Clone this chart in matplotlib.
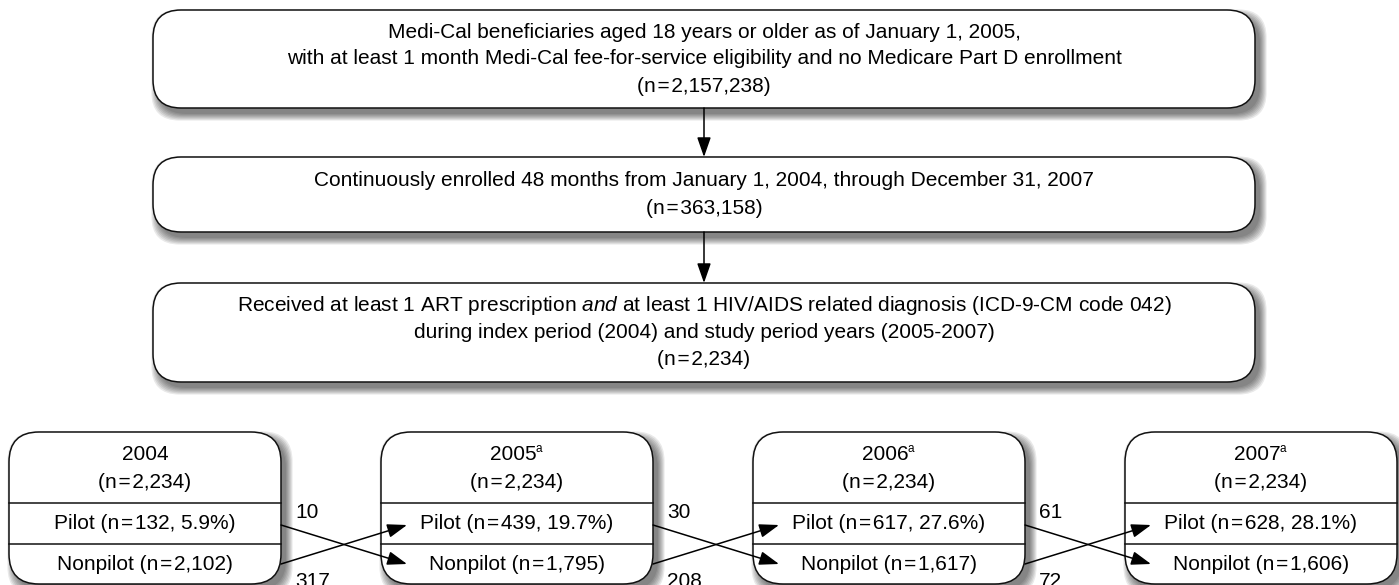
import matplotlib.pyplot as plt
from matplotlib.patches import FancyBboxPatch

plt.rcParams['font.family'] = ['Liberation Sans', 'DejaVu Sans']
plt.rcParams['mathtext.fontset'] = 'custom'
plt.rcParams['mathtext.rm'] = 'Liberation Sans'
plt.rcParams['mathtext.it'] = 'Liberation Sans:italic'

# selection steps (top boxes)
step_lines = [
    ["Medi-Cal beneficiaries aged 18 years or older as of January 1, 2005,",
     "with at least 1 month Medi-Cal fee-for-service eligibility and no Medicare Part D enrollment"],
    ["Continuously enrolled 48 months from January 1, 2004, through December 31, 2007"],
    [r"Received at least 1 ART prescription $\mathit{and}$ at least 1 HIV/AIDS related diagnosis (ICD-9-CM code 042)",
     "during index period (2004) and study period years (2005-2007)"],
]
step_n = ["2,157,238", "363,158", "2,234"]

# yearly boxes
years = ["2004", "2005", "2006", "2007"]
year_note = ["", "a", "a", "a"]
total_n = ["2,234", "2,234", "2,234", "2,234"]
pilot_n = ["132", "439", "617", "628"]
pilot_pct = ["5.9%", "19.7%", "27.6%", "28.1%"]
nonpilot_n = ["2,102", "1,795", "1,617", "1,606"]
pilot_to_nonpilot = [10, 30, 61]
nonpilot_to_pilot = [317, 208, 72]

FS = 15
EQ = "\u200a=\u200a"   # equals sign with hair spaces, as in the original

fig = plt.figure(figsize=(13.99, 5.85), dpi=100)
ax = fig.add_axes([0, 0, 1, 1])
ax.set_xlim(0, 1399)
ax.set_ylim(585, 0)
ax.axis('off')


def rbox(x, y, w, h, r=28):
    # soft drop shadow
    for k in range(7):
        ax.add_patch(FancyBboxPatch((x + 5, y + 6), w, h,
                                    boxstyle=f"round,pad={k * 1.1},rounding_size={r}",
                                    fc='black', ec='none', alpha=0.085, zorder=1))
    ax.add_patch(FancyBboxPatch((x, y), w, h,
                                boxstyle=f"round,pad=0,rounding_size={r}",
                                fc='white', ec='#111111', lw=1.1, zorder=2))


def arrow(x0, y0, x1, y1):
    ax.annotate("", xy=(x1, y1), xytext=(x0, y0),
                arrowprops=dict(arrowstyle='-|>,head_length=1.2,head_width=0.42',
                                color='black', lw=1.1, mutation_scale=10,
                                shrinkA=0, shrinkB=0), zorder=4)


# top boxes
tx, tw = 153, 1102
tops = [10, 157, 283]
heights = [98, 75, 99]
for i in range(3):
    rbox(tx, tops[i], tw, heights[i])
    lines = step_lines[i] + ["(n" + EQ + step_n[i] + ")"]
    cy = tops[i] + heights[i] / 2
    n = len(lines)
    for j, s in enumerate(lines):
        ax.text(tx + tw / 2, cy + (j - (n - 1) / 2) * 27, s, ha='center', va='center',
                fontsize=FS, zorder=3)
    if i < 2:
        arrow(tx + tw / 2, tops[i] + heights[i], tx + tw / 2, tops[i + 1])

# bottom boxes
lefts = [9, 381, 753, 1125]
bw, btop, bh = 272, 432, 152
div1, div2 = 503, 544
for i in range(4):
    x = lefts[i]
    rbox(x, btop, bw, bh, r=30)
    ax.plot([x, x + bw], [div1, div1], color='#111111', lw=1.1, zorder=3)
    ax.plot([x, x + bw], [div2, div2], color='#111111', lw=1.1, zorder=3)
    cx = x + bw / 2
    if year_note[i]:
        ax.text(cx + 20, 455, years[i], ha='right', va='center', fontsize=FS, zorder=3)
        ax.text(cx + 19, 449, year_note[i], ha='left', va='center', fontsize=8.5, zorder=3)
    else:
        ax.text(cx, 455, years[i], ha='center', va='center', fontsize=FS, zorder=3)
    ax.text(cx, 482, "(n" + EQ + total_n[i] + ")", ha='center', va='center', fontsize=FS, zorder=3)
    ax.text(cx, (div1 + div2) / 2, "Pilot (n" + EQ + pilot_n[i] + ", " + pilot_pct[i] + ")",
            ha='center', va='center', fontsize=FS, zorder=3)
    ax.text(cx, (div2 + btop + bh) / 2, "Nonpilot (n" + EQ + nonpilot_n[i] + ")",
            ha='center', va='center', fontsize=FS, zorder=3)

# transitions between years
py, ny = 525, 564
for i in range(3):
    x0 = lefts[i] + bw
    x1 = lefts[i + 1] + 26
    arrow(x0, py, x1, ny)
    arrow(x0, ny, x1, py)
    ax.text(x0 + 14, 512, str(pilot_to_nonpilot[i]), ha='left', va='center',
            fontsize=FS, zorder=3)
    ax.text(x0 + 14, 572, str(nonpilot_to_pilot[i]), ha='left', va='top',
            fontsize=FS, zorder=3)

fig.savefig('out.png', dpi=100)
